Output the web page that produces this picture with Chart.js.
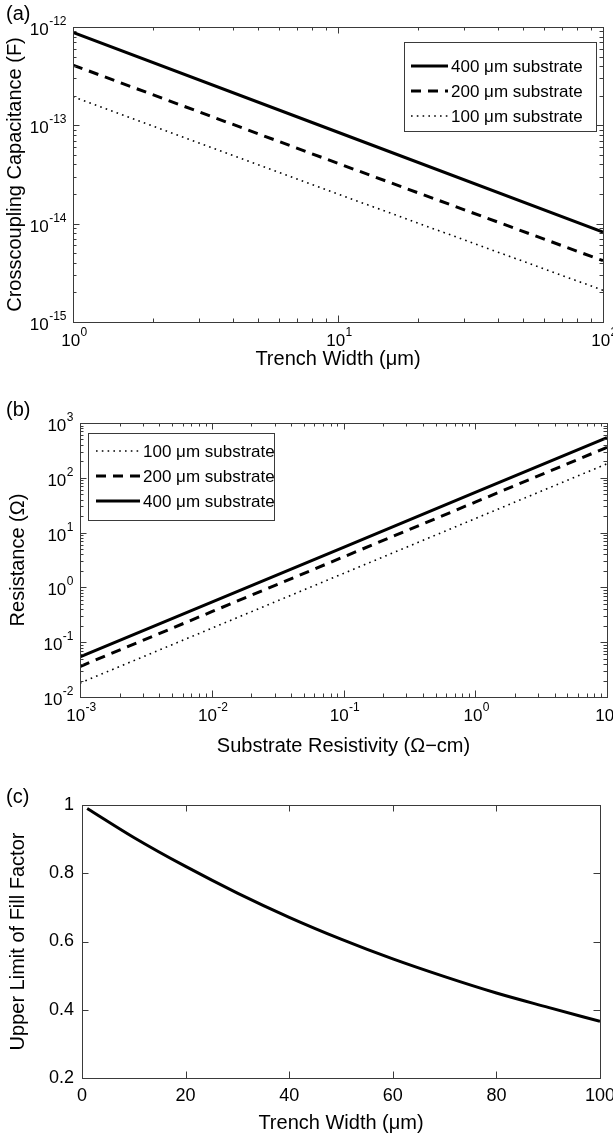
<!DOCTYPE html>
<html><head><meta charset="utf-8">
<script src="https://cdn.jsdelivr.net/npm/chart.js@4/dist/chart.umd.min.js"></script>
<style>
html,body{margin:0;padding:0;background:#fff;width:613px;height:1135px;overflow:hidden}
.p{position:absolute;left:0;width:613px;height:375px}
</style></head><body>
<div class="p" style="top:0"><canvas id="ca"></canvas></div>
<div class="p" style="top:385px"><canvas id="cb"></canvas></div>
<div class="p" style="top:760px"><canvas id="cc"></canvas></div>
<script>
const FONT = "'Liberation Sans', Arial, Helvetica, sans-serif";

// ---- Panel (a): crosscoupling capacitance vs trench width ----
const trenchWidthA = [1, 10, 100];
const cap400 = [8.8e-13, 8.5e-14, 8.2e-15];
const cap200 = [4.1e-13, 4.1e-14, 4.2e-15];
const cap100 = [1.95e-13, 2.0e-14, 2.1e-15];
const labelsA = ["400 μm substrate", "200 μm substrate", "100 μm substrate"];

// ---- Panel (b): resistance vs substrate resistivity ----
const resistivity = [1e-3, 1e-2, 1e-1, 1, 10];
const res100 = [0.018, 0.18, 1.8, 18, 180];
const res200 = [0.036, 0.36, 3.6, 36, 360];
const res400 = [0.054, 0.54, 5.4, 54, 540];
const labelsB = ["100 μm substrate", "200 μm substrate", "400 μm substrate"];

// ---- Panel (c): upper limit of fill factor vs trench width ----
const trenchWidthC = [1, 10, 20, 30, 40, 50, 60, 70, 80, 90, 100];
const fillFactor = [0.99, 0.905, 0.82, 0.742, 0.671, 0.607, 0.549, 0.497, 0.449, 0.407, 0.366];

function isPow10(v){ const l = Math.log10(v); return Math.abs(l - Math.round(l)) < 1e-6; }
function logTicks(scale){
  const min = scale.min, max = scale.max, t = [];
  for (let e = Math.floor(Math.log10(min)); e <= Math.ceil(Math.log10(max)); e++) {
    for (let m = 1; m < 10; m++) {
      const v = m * Math.pow(10, e);
      if (v >= min * 0.9999 && v <= max * 1.0001) t.push({value: v});
    }
  }
  scale.ticks = t;
}
function pts(xs, ys){ return xs.map((x, i) => ({x: x, y: ys[i]})); }

function drawPow10(ctx, s, a){
  s.ticks.forEach(t => {
    if (!isPow10(t.value)) return;
    const exp = String(Math.round(Math.log10(t.value)));
    const p = s.getPixelForValue(t.value);
    ctx.font = '17px ' + FONT;
    const wb = ctx.measureText('10').width;
    ctx.font = '12px ' + FONT;
    const we = ctx.measureText(exp).width;
    let x0, yb;
    if (s.axis === 'x') { x0 = p - (wb + we) / 2 + 1; yb = a.bottom + 24; }
    else { x0 = a.left - 7 - wb - we; yb = p + 8; }
    ctx.font = '17px ' + FONT;
    ctx.fillText('10', x0, yb);
    ctx.font = '12px ' + FONT;
    ctx.fillText(exp, x0 + wb + 0.5, yb - 10);
  });
}

const boxTicks = {
  id: 'boxTicks',
  afterDatasetsDraw(chart){
    const ctx = chart.ctx, a = chart.chartArea;
    ctx.save();
    ctx.strokeStyle = '#3a3a3a';
    ctx.lineWidth = 1;
    ['x','y'].forEach(id => {
      const s = chart.scales[id];
      s.ticks.forEach(t => {
        const minor = s.type === 'logarithmic' && !isPow10(t.value);
        const len = minor ? 3.5 : 6.5;
        const p = Math.round(s.getPixelForValue(t.value)) + 0.5;
        ctx.beginPath();
        if (id === 'x') {
          ctx.moveTo(p, a.bottom); ctx.lineTo(p, a.bottom - len);
          ctx.moveTo(p, a.top); ctx.lineTo(p, a.top + len);
        } else {
          ctx.moveTo(a.left, p); ctx.lineTo(a.left + len, p);
          ctx.moveTo(a.right, p); ctx.lineTo(a.right - len, p);
        }
        ctx.stroke();
      });
    });
    ctx.strokeRect(Math.round(a.left) + 0.5, Math.round(a.top) + 0.5, Math.round(a.right - a.left), Math.round(a.bottom - a.top));
    ctx.restore();
  },
  afterDraw(chart, args, opts){
    const ctx = chart.ctx, a = chart.chartArea;
    ctx.save();
    ctx.fillStyle = '#000';
    ctx.textBaseline = 'alphabetic';
    ctx.textAlign = 'left';
    ['x','y'].forEach(id => { const s = chart.scales[id]; if (s.type === 'logarithmic') drawPow10(ctx, s, a); });
    ctx.font = '20px ' + FONT;
    ctx.textBaseline = 'middle';
    if (opts.tag) ctx.fillText(opts.tag, opts.tagX, opts.tagY);
    const L = opts.legend;
    if (L) {
      ctx.fillStyle = '#fff';
      ctx.fillRect(L.x, L.y, L.w, L.h);
      ctx.strokeStyle = '#3a3a3a';
      ctx.lineWidth = 1;
      ctx.strokeRect(L.x + 0.5, L.y + 0.5, L.w, L.h);
      ctx.font = '17px ' + FONT;
      ctx.fillStyle = '#000';
      chart.data.datasets.forEach((ds, i) => {
        const y = L.y + L.first + i * L.row;
        ctx.save();
        ctx.strokeStyle = ds.borderColor;
        ctx.lineWidth = ds.borderWidth;
        ctx.setLineDash(ds.borderDash || []);
        ctx.beginPath();
        ctx.moveTo(L.x + L.s0, y); ctx.lineTo(L.x + L.s1, y);
        ctx.stroke();
        ctx.restore();
        ctx.fillText(ds.label, L.x + L.s1 + 3, y + 1);
      });
    }
    ctx.restore();
  }
};

const SOLID = {borderColor:'#000', borderWidth:3, borderDash:[]};
const DASH = {borderColor:'#000', borderWidth:3, borderDash:[10,7]};
const DOT = {borderColor:'#000', borderWidth:1.6, borderDash:[1.6,4.2]};

function baseScale(type, min, max, title, titlePad, axisSize, isX){
  const s = {
    type: type, min: min, max: max,
    grid: {display:false, drawTicks:false},
    border: {display:false},
    ticks: {color:'#000', font:{family:FONT, size:18}, padding: isX ? 5 : 8, autoSkip:false, maxRotation:0},
    title: {display:true, text:title, color:'#000', font:{family:FONT, size:20}, padding: isX ? {bottom:titlePad, top:0} : {top:titlePad, bottom:0}},
    afterFit(sc){
      if (isX) sc.height = axisSize; else sc.width = axisSize;
      sc.paddingLeft = 0; sc.paddingRight = 0; sc.paddingTop = 0; sc.paddingBottom = 0;
    }
  };
  if (type === 'logarithmic') { s.afterBuildTicks = logTicks; s.ticks.display = false; }
  return s;
}
function makeLine(label, data, style){
  return Object.assign({label: label, data: data, pointRadius:0, fill:false, tension:0, borderCapStyle:'butt'}, style);
}
const common = {responsive:true, maintainAspectRatio:false, animation:false, events:[]};

new Chart(document.getElementById('ca'), {
  type: 'line',
  data: {datasets: [
    makeLine(labelsA[0], pts(trenchWidthA, cap400), SOLID),
    makeLine(labelsA[1], pts(trenchWidthA, cap200), DASH),
    makeLine(labelsA[2], pts(trenchWidthA, cap100), DOT)
  ]},
  options: Object.assign({}, common, {
    layout: {padding: {left:0, right:10, top:27, bottom:0}},
    scales: {
      x: baseScale('logarithmic', 1, 100, 'Trench Width (μm)', 4, 53, true),
      y: baseScale('logarithmic', 1e-15, 1e-12, 'Crosscoupling Capacitance (F)', 3, 73, false)
    },
    plugins: {legend:{display:false}, tooltip:{enabled:false},
      boxTicks: {tag:'(a)', tagX:6, tagY:14, legend:{x:404, y:42, w:192, h:89, first:24, row:25, s0:7, s1:44}}}
  }),
  plugins: [boxTicks]
});

new Chart(document.getElementById('cb'), {
  type: 'line',
  data: {datasets: [
    makeLine(labelsB[0], pts(resistivity, res100), DOT),
    makeLine(labelsB[1], pts(resistivity, res200), DASH),
    makeLine(labelsB[2], pts(resistivity, res400), SOLID)
  ]},
  options: Object.assign({}, common, {
    layout: {padding: {left:0, right:6, top:38, bottom:0}},
    scales: {
      x: baseScale('logarithmic', 1e-3, 10, 'Substrate Resistivity (\u03A9\u2212cm)', 2, 63, true),
      y: baseScale('logarithmic', 1e-2, 1e3, 'Resistance (\u03A9)', 6, 80, false)
    },
    plugins: {legend:{display:false}, tooltip:{enabled:false},
      boxTicks: {tag:'(b)', tagX:6, tagY:25, legend:{x:88, y:48, w:186, h:87, first:18, row:25, s0:8, s1:52}}}
  }),
  plugins: [boxTicks]
});

const scC = {
  x: baseScale('linear', 0, 100, 'Trench Width (μm)', 0, 57, true),
  y: baseScale('linear', 0.2, 1, 'Upper Limit of Fill Factor', 6, 82, false)
};
scC.x.ticks.stepSize = 20;
scC.y.ticks.stepSize = 0.2;
scC.y.ticks.callback = v => String(Math.round(v * 10) / 10);
scC.x.ticks.padding = 7;

new Chart(document.getElementById('cc'), {
  type: 'line',
  data: {datasets: [
    Object.assign(makeLine('Upper limit of fill factor', pts(trenchWidthC, fillFactor), SOLID), {cubicInterpolationMode:'monotone'})
  ]},
  options: Object.assign({}, common, {
    layout: {padding: {left:0, right:13, top:45, bottom:0}},
    scales: scC,
    plugins: {legend:{display:false}, tooltip:{enabled:false},
      boxTicks: {tag:'(c)', tagX:6, tagY:37}}
  }),
  plugins: [boxTicks]
});
</script>
</body></html>
